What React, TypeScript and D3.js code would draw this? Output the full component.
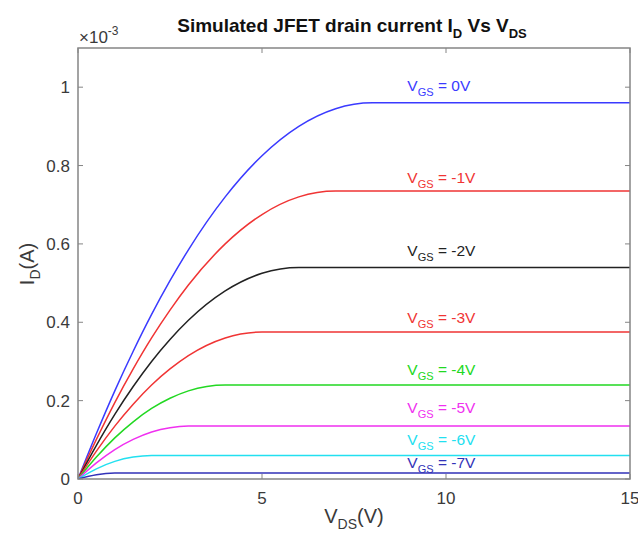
import React from 'react'
import * as d3 from 'd3'

// drain-source voltage samples (V)
const vds = [0, 0.5, 1, 1.5, 2, 2.5, 3, 4, 5, 6, 7, 8, 15]

// drain current per gate voltage, in mA (axis shows x10^-3 A)
const vgsLabels = ['0V', '-1V', '-2V', '-3V', '-4V', '-5V', '-6V', '-7V']
const id0 = [0, 0.116, 0.225, 0.326, 0.42, 0.506, 0.585, 0.72, 0.825, 0.9, 0.945, 0.96, 0.96]
const id1 = [0, 0.101, 0.195, 0.281, 0.36, 0.431, 0.495, 0.6, 0.675, 0.72, 0.735, 0.735, 0.735]
const id2 = [0, 0.086, 0.165, 0.236, 0.3, 0.356, 0.405, 0.48, 0.525, 0.54, 0.54, 0.54, 0.54]
const id3 = [0, 0.071, 0.135, 0.191, 0.24, 0.281, 0.315, 0.36, 0.375, 0.375, 0.375, 0.375, 0.375]
const id4 = [0, 0.056, 0.105, 0.146, 0.18, 0.206, 0.225, 0.24, 0.24, 0.24, 0.24, 0.24, 0.24]
const id5 = [0, 0.041, 0.075, 0.101, 0.12, 0.131, 0.135, 0.135, 0.135, 0.135, 0.135, 0.135, 0.135]
const id6 = [0, 0.026, 0.045, 0.056, 0.06, 0.06, 0.06, 0.06, 0.06, 0.06, 0.06, 0.06, 0.06]
const id7 = [0, 0.011, 0.015, 0.015, 0.015, 0.015, 0.015, 0.015, 0.015, 0.015, 0.015, 0.015, 0.015]
const series = [id0, id1, id2, id3, id4, id5, id6, id7]

// where each "V_GS = ..." note sits (V, mA)
const labelX = [8.95, 8.95, 8.95, 8.95, 8.95, 8.95, 8.95, 8.95]
const labelY = [0.99, 0.755, 0.568, 0.397, 0.265, 0.168, 0.087, 0.028]

const xTicks = [0, 5, 10, 15]
const yTicks = [0, 0.2, 0.4, 0.6, 0.8, 1]

const colors = ['#3a3aff', '#f03434', '#222222', '#f03434', '#22d822', '#f030f0', '#22e0f0', '#3232b8']

const W = 638
const H = 541
const m = { left: 78, right: 630, top: 48, bottom: 479 }
const font = 'Arial, "Liberation Sans", Helvetica, sans-serif'
const axisColor = '#858585'
const textColor = '#3a3a3a'

export default function App() {
  const x = d3.scaleLinear().domain([0, 15]).range([m.left, m.right])
  const y = d3.scaleLinear().domain([0, 1.1]).range([m.bottom, m.top])

  const line = d3.line<number>()
    .x((d, i) => x(vds[i]))
    .y(d => y(d))
    .curve(d3.curveMonotoneX)

  const tick = 5

  return (
    <svg width={W} height={H} style={{ position: 'absolute', left: 0, top: 0, background: '#fff' }} fontFamily={font}>
      {/* title */}
      <text x={352} y={32} textAnchor="middle" fontSize={19} fontWeight="bold" fill="#111">
        Simulated JFET drain current I<tspan dy={6} fontSize={13}>D</tspan>
        <tspan dy={-6}> Vs V</tspan><tspan dy={6} fontSize={13}>DS</tspan>
      </text>

      {/* exponent */}
      <text x={79} y={43} fontSize={17} fill={textColor}>
        ×10<tspan dy={-8} fontSize={12}>-3</tspan>
      </text>

      {/* curves */}
      <defs>
        <clipPath id="plotclip">
          <rect x={m.left} y={m.top} width={m.right - m.left} height={m.bottom - m.top} />
        </clipPath>
      </defs>
      <g clipPath="url(#plotclip)">
        {series.map((s, i) => (
          <path key={`c-${i}`} d={line(s) || ''} fill="none" stroke={colors[i]} strokeWidth={1.5} />
        ))}
      </g>

      {/* curve labels */}
      {vgsLabels.map((lab, i) => (
        <text key={`l-${i}`} x={x(labelX[i])} y={y(labelY[i])} fontSize={15.5} fill={colors[i]}>
          V<tspan dy={5} fontSize={11}>GS</tspan><tspan dy={-5}> = {lab}</tspan>
        </text>
      ))}

      {/* box */}
      <rect x={m.left} y={m.top} width={m.right - m.left} height={m.bottom - m.top}
        fill="none" stroke={axisColor} strokeWidth={1.5} />

      {/* x ticks */}
      {xTicks.map(t => (
        <g key={`xt-${t}`}>
          <line x1={x(t)} x2={x(t)} y1={m.bottom} y2={m.bottom - tick} stroke={axisColor} />
          <line x1={x(t)} x2={x(t)} y1={m.top} y2={m.top + tick} stroke={axisColor} />
          <text x={x(t)} y={504} textAnchor="middle" fontSize={17} fill={textColor}>{t}</text>
        </g>
      ))}

      {/* y ticks */}
      {yTicks.map(t => (
        <g key={`yt-${t}`}>
          <line x1={m.left} x2={m.left + tick} y1={y(t)} y2={y(t)} stroke={axisColor} />
          <line x1={m.right} x2={m.right - tick} y1={y(t)} y2={y(t)} stroke={axisColor} />
          <text x={70} y={y(t) + 6} textAnchor="end" fontSize={17} fill={textColor}>{t}</text>
        </g>
      ))}

      {/* axis labels */}
      <text x={354} y={523} textAnchor="middle" fontSize={20} fill={textColor}>
        V<tspan dy={6} fontSize={14}>DS</tspan><tspan dy={-6}>(V)</tspan>
      </text>
      <text transform={`translate(34, 264) rotate(-90)`} textAnchor="middle" fontSize={20} fill={textColor}>
        I<tspan dy={6} fontSize={14}>D</tspan><tspan dy={-6}>(A)</tspan>
      </text>
    </svg>
  )
}
